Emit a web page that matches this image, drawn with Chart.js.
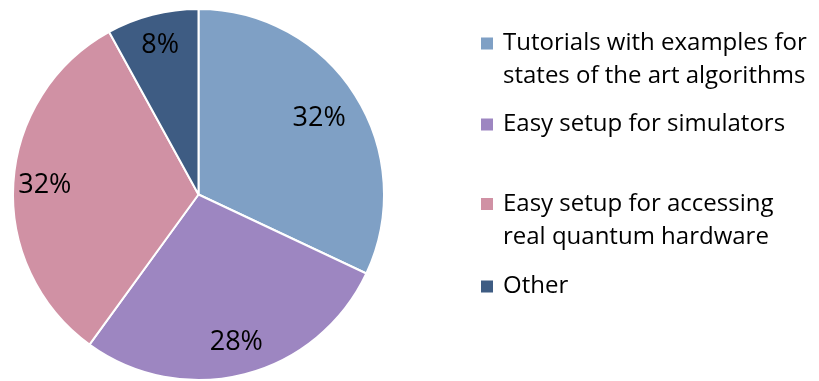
<!DOCTYPE html>
<html>
<head>
<meta charset="utf-8">
<script src="https://cdn.jsdelivr.net/npm/chart.js@4/dist/chart.umd.min.js"></script>
<style>
  html, body { margin: 0; padding: 0; background: #ffffff; }
  #wrap { position: relative; width: 819px; height: 381px; }
</style>
</head>
<body>
<div id="wrap"><canvas id="pie" width="819" height="381"></canvas></div>
<script>
// Survey answers: what would help most when getting started
const categories = [
  ['Tutorials with examples for', 'states of the art algorithms'],
  ['Easy setup for simulators'],
  ['Easy setup for accessing', 'real quantum hardware'],
  ['Other']
];
const shares = [32, 28, 32, 8];
const sliceColors = ['#7FA0C5', '#9D86C1', '#D091A4', '#3E5C83'];

const FONT_FAMILY = '"Open Sans"';

// Percent labels placed inside each slice
const sliceLabels = {
  id: 'sliceLabels',
  afterDatasetsDraw(chart, args, opts) {
    const ctx = chart.ctx;
    const meta = chart.getDatasetMeta(0);
    const total = shares.reduce((a, b) => a + b, 0);
    ctx.save();
    ctx.font = opts.font;
    ctx.fillStyle = '#000';
    ctx.textAlign = 'center';
    ctx.textBaseline = 'middle';
    meta.data.forEach((arc, i) => {
      const p = arc.getProps(['x', 'y', 'startAngle', 'endAngle', 'outerRadius']);
      const mid = (p.startAngle + p.endAngle) / 2;
      const r = p.outerRadius * opts.radial[i];
      const pct = Math.round(shares[i] / total * 100) + '%';
      ctx.fillText(pct, p.x + Math.cos(mid) * r, p.y + Math.sin(mid) * r);
    });
    ctx.restore();
  }
};

// Legend on the right with wrapped entries
const sideLegend = {
  id: 'sideLegend',
  afterDraw(chart, args, opts) {
    const ctx = chart.ctx;
    ctx.save();
    ctx.font = opts.font;
    ctx.textBaseline = 'middle';
    ctx.textAlign = 'left';
    chart.data.labels.forEach((lines, i) => {
      const y = opts.rows[i];
      ctx.fillStyle = sliceColors[i];
      ctx.fillRect(opts.x, y - opts.box / 2, opts.box, opts.box);
      ctx.fillStyle = '#000';
      lines.forEach((t, j) => ctx.fillText(t, opts.textX, y + j * opts.lineHeight));
    });
    ctx.restore();
  }
};

function draw() {
  new Chart(document.getElementById('pie'), {
    type: 'pie',
    data: {
      labels: categories,
      datasets: [{
        data: shares,
        backgroundColor: sliceColors,
        borderColor: '#ffffff',
        borderWidth: 2
      }]
    },
    options: {
      responsive: false,
      animation: false,
      layout: { padding: { left: 12, top: 8, right: 434, bottom: 0 } },
      plugins: {
        legend: { display: false },
        tooltip: { enabled: false },
        sliceLabels: { font: '27px ' + FONT_FAMILY, radial: [0.77, 0.82, 0.83, 0.83] },
        sideLegend: {
          font: '24px ' + FONT_FAMILY, x: 481, textX: 503, box: 12,
          rows: [43.5, 124.5, 204, 286.5], lineHeight: 33
        }
      }
    },
    plugins: [sliceLabels, sideLegend]
  });
}

Promise.all([
  document.fonts.load('24px ' + FONT_FAMILY),
  document.fonts.load('27px ' + FONT_FAMILY)
]).then(draw, draw);
</script>
</body>
</html>
